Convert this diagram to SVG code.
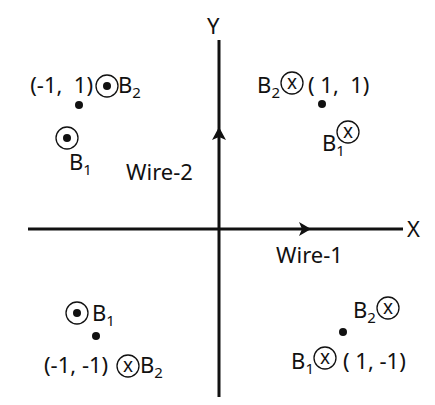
<svg xmlns="http://www.w3.org/2000/svg" width="435" height="405" viewBox="0 0 435 405">
<style>
text{font-family:"Noto Sans","Open Sans",sans-serif;font-size:22px;fill:#111}
.sub{font-size:15px}
.end{text-anchor:end}
.ax{stroke:#111;stroke-width:3;fill:none}
.ring{fill:none;stroke:#111;stroke-width:1.3}
.dot{fill:#111}
.x{font-size:19px;text-anchor:middle}
</style>
<rect width="435" height="405" fill="#fff"/>
<g id="connectors">
<line class="ax" x1="28" y1="229" x2="403" y2="229"/>
<line class="ax" x1="219" y1="40" x2="219" y2="397"/>
<path d="M311,229 L299,222 L302,229 L299,236 Z" fill="#111"/>
<path d="M219,127 L212,140 L219,137 L226,140 Z" fill="#111"/>
</g>
<g id="axis-labels">
<text x="407" y="237">X</text>
<text x="207" y="34">Y</text>
<text x="276" y="263">Wire-1</text>
<text x="126" y="180">Wire-2</text>
</g>
<g id="q2">
<circle class="dot" cx="79" cy="105" r="4"/>
<text class="end" x="93" y="93" xml:space="preserve">(-1,  1)</text>
<circle class="ring" cx="107" cy="86" r="11"/>
<circle class="dot" cx="107" cy="86" r="4"/>
<text x="118" y="93">B<tspan class="sub" dy="5">2</tspan></text>
<circle class="ring" cx="67" cy="138" r="11"/>
<circle class="dot" cx="67" cy="138" r="4"/>
<text x="69" y="170">B<tspan class="sub" dy="5">1</tspan></text>
</g>
<g id="q1">
<circle class="dot" cx="322" cy="104" r="4"/>
<text class="end" x="280" y="93">B<tspan class="sub" dy="5">2</tspan></text>
<circle class="ring" cx="292" cy="83" r="11"/>
<text class="x" x="292" y="89">x</text>
<text x="308" y="93" xml:space="preserve">( 1,  1)</text>
<text x="322" y="151">B<tspan class="sub" dy="5">1</tspan></text>
<circle class="ring" cx="348" cy="132" r="11"/>
<text class="x" x="348" y="138">x</text>
</g>
<g id="q3">
<circle class="ring" cx="77" cy="313" r="11"/>
<circle class="dot" cx="77" cy="313" r="4"/>
<text x="92" y="321">B<tspan class="sub" dy="5">1</tspan></text>
<circle class="dot" cx="96" cy="336" r="4"/>
<text x="44" y="373">(-1, -1)</text>
<circle class="ring" cx="128" cy="366" r="11"/>
<text class="x" x="128" y="372">x</text>
<text x="140" y="373">B<tspan class="sub" dy="5">2</tspan></text>
</g>
<g id="q4">
<text x="353" y="318">B<tspan class="sub" dy="5">2</tspan></text>
<circle class="ring" cx="388" cy="308" r="11"/>
<text class="x" x="388" y="314">x</text>
<circle class="dot" cx="343" cy="332" r="4"/>
<text class="end" x="314" y="369">B<tspan class="sub" dy="5">1</tspan></text>
<circle class="ring" cx="325" cy="358" r="11"/>
<text class="x" x="325" y="364">x</text>
<text x="343" y="369">( 1, -1)</text>
</g>
</svg>
